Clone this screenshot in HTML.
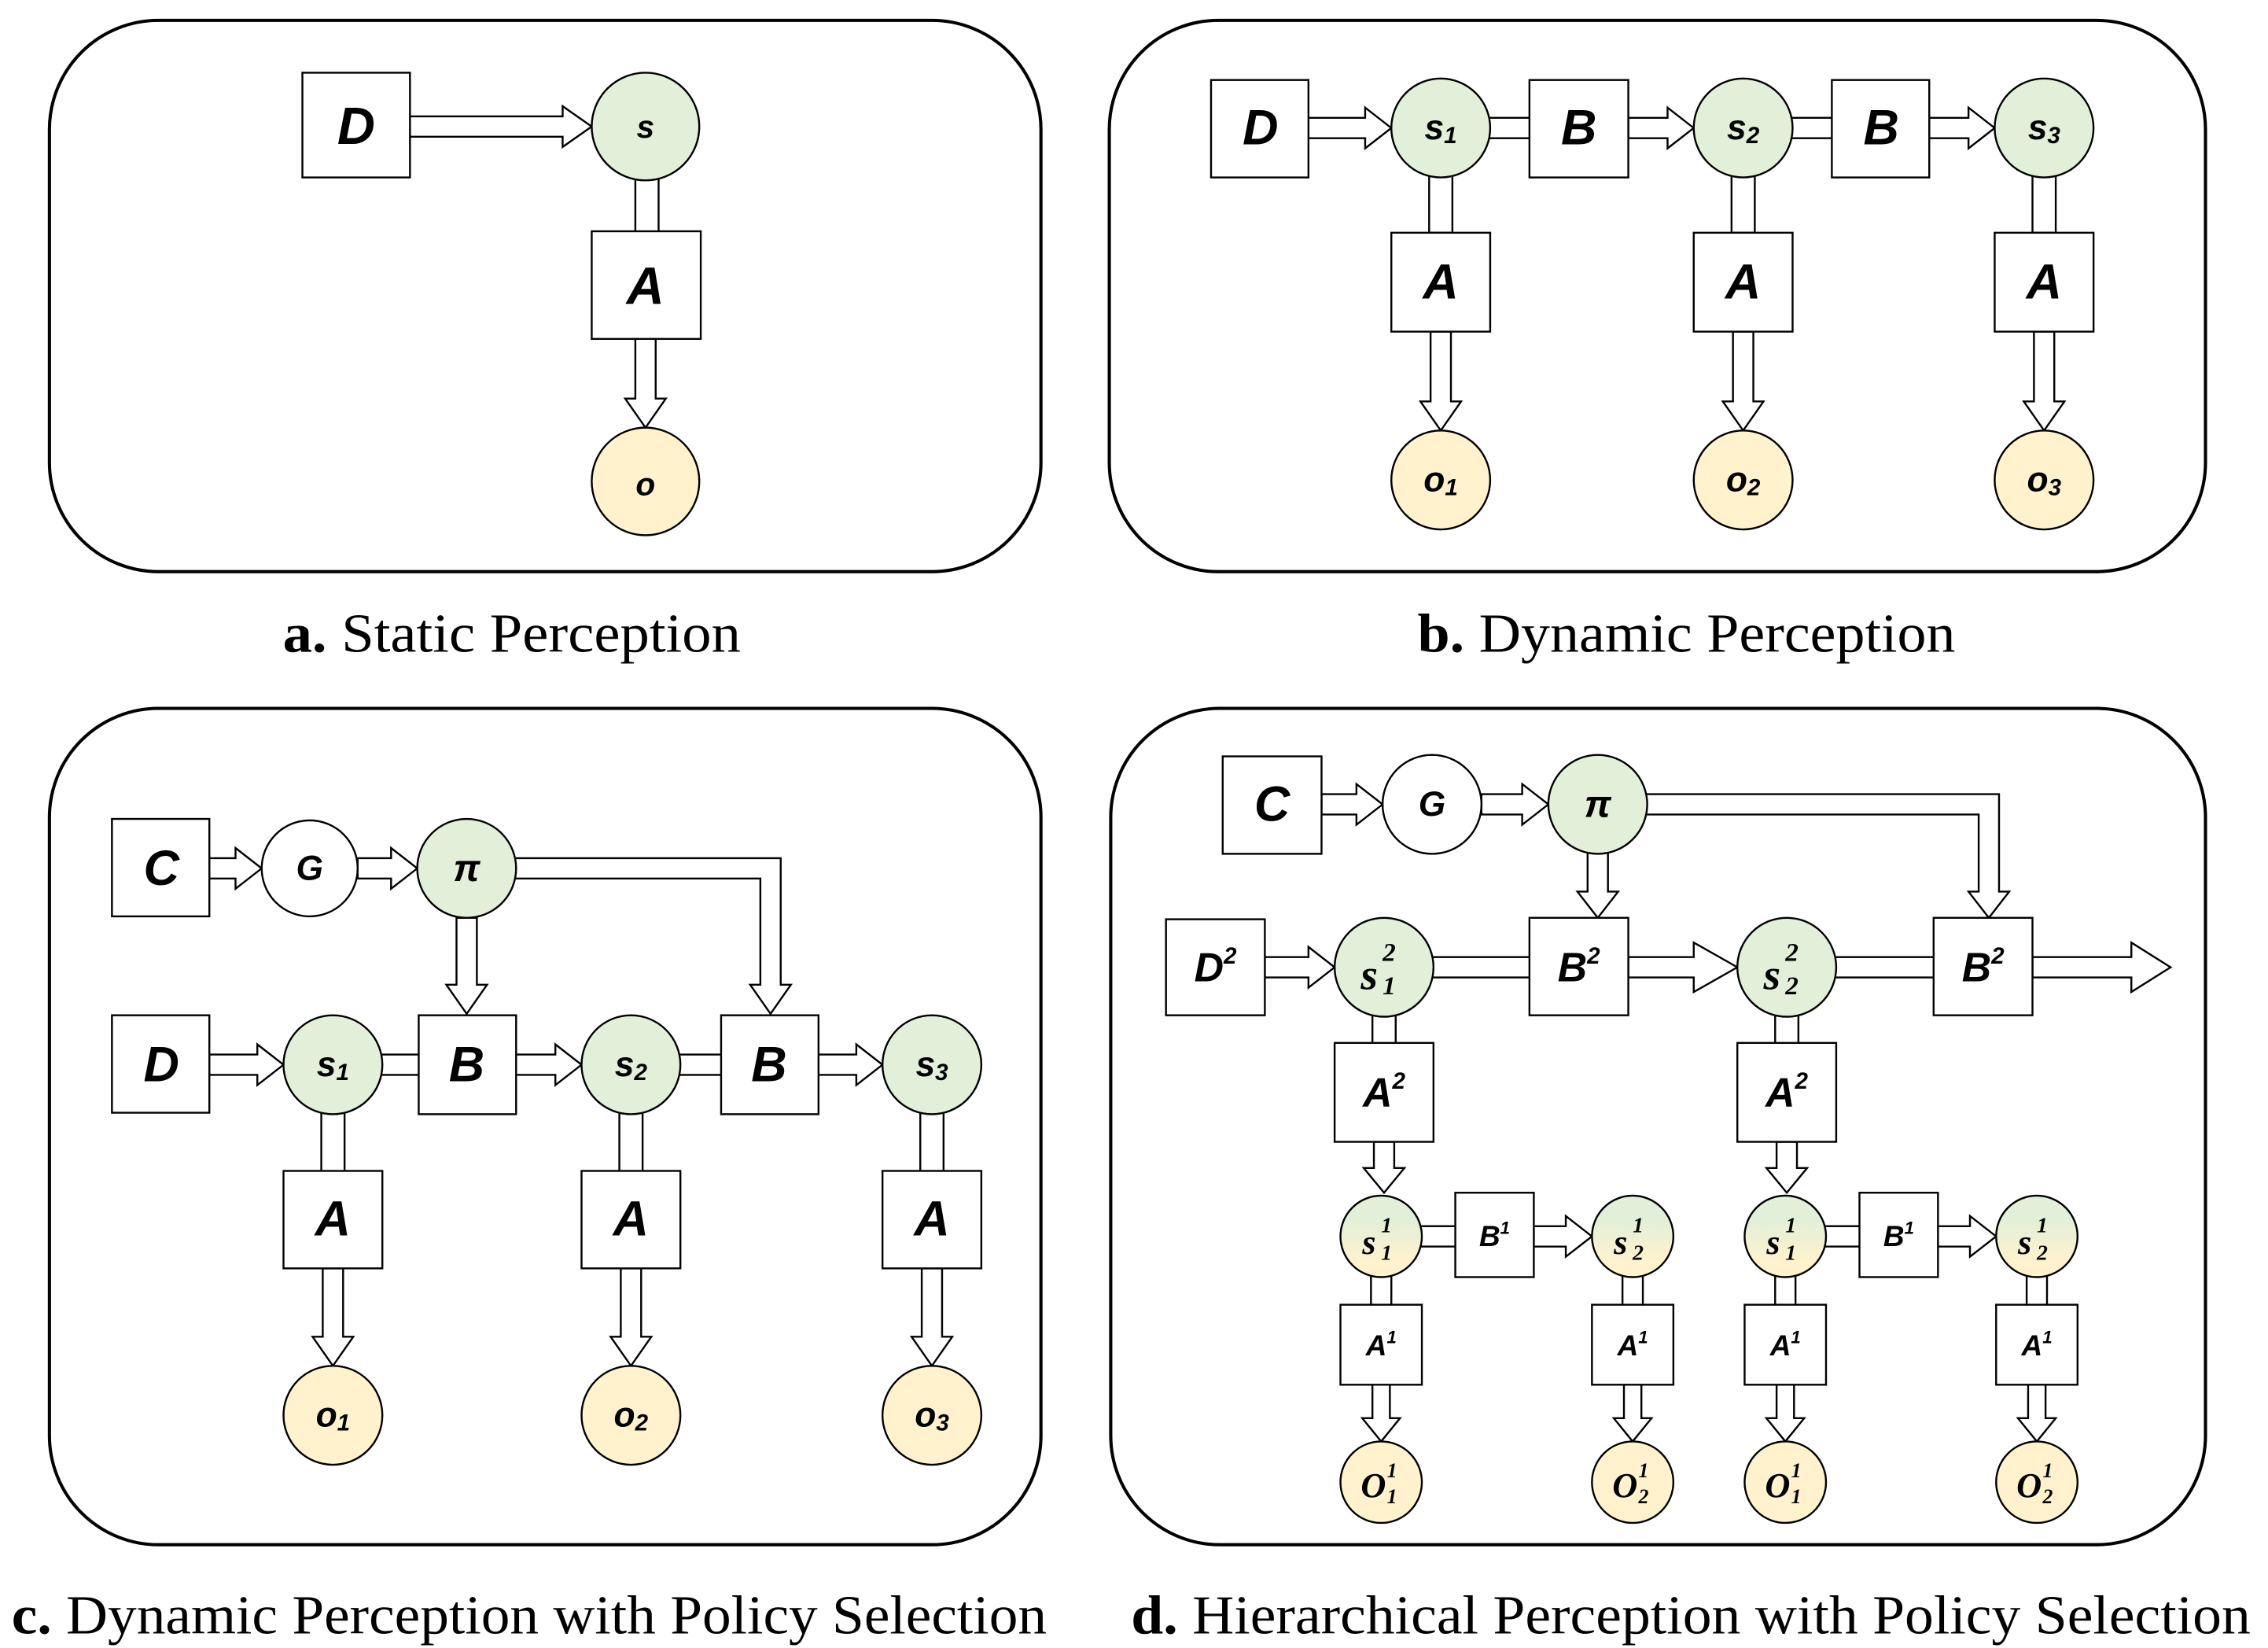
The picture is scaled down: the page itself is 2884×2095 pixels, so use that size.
<!DOCTYPE html>
<html><head><meta charset="utf-8"><style>
html,body{margin:0;padding:0;background:#fff;}
svg{display:block;}
.p{fill:#fff;stroke:#000;stroke-width:2.2;}
.b{fill:#fff;stroke:#000;stroke-width:1.3;}
.a{fill:#fff;stroke:#000;stroke-width:1.3;}
.g{fill:#e2efd9;stroke:#000;stroke-width:1.3;}
.y{fill:#fff2cc;stroke:#000;stroke-width:1.3;}
.m{fill:url(#gy);stroke:#000;stroke-width:1.3;}
.L{font-family:"Liberation Sans",sans-serif;font-weight:bold;font-style:italic;text-anchor:middle;dominant-baseline:central;}
.S{font-family:"Liberation Serif",serif;font-weight:bold;font-style:italic;dominant-baseline:central;}
.cap{font-family:"Liberation Serif",serif;font-size:38px;text-anchor:middle;}
</style></head><body>
<svg width="2884" height="2095" viewBox="0 0 1560 1133" preserveAspectRatio="none" xmlns="http://www.w3.org/2000/svg">
<defs><linearGradient id="gy" x1="0" y1="0" x2="0" y2="1"><stop offset="0.3" stop-color="#e2efd9"/><stop offset="0.8" stop-color="#fff2cc"/></linearGradient></defs>

<!-- Panel a -->
<rect class="p" x="34" y="14" width="682" height="379" rx="75"/>
<polygon class="a" points="282,80 387,80 387,73 407,87 387,101 387,94 282,94"/>
<rect class="a" x="437" y="118" width="16" height="42"/>
<polygon class="a" points="437,233 437,274 430,274 444,294 458,274 451,274 451,233"/>
<rect class="b" x="208" y="50" width="74" height="72"/>
<circle class="g" cx="444" cy="87" r="37"/>
<rect class="b" x="407" y="159" width="75" height="74"/>
<circle class="y" cx="444" cy="331" r="37"/>
<text class="L" x="245" y="87" font-size="36">D</text>
<text class="L" x="444" y="87" font-size="22">s</text>
<text class="L" x="444" y="197" font-size="36">A</text>
<text class="L" x="444" y="333" font-size="22">o</text>
<text class="cap" x="352" y="448" textLength="315" lengthAdjust="spacingAndGlyphs"><tspan font-weight="bold">a.</tspan>  Static Perception</text>

<!-- Panel b -->
<rect class="p" x="763" y="14" width="754" height="379" rx="75"/>
<polygon class="a" points="900,81 939,81 939,74 957,88 939,102 939,95 900,95"/>
<rect class="a" x="1020" y="81" width="34" height="14"/>
<polygon class="a" points="1120,81 1147,81 1147,74 1165,88 1147,102 1147,95 1120,95"/>
<rect class="a" x="1228" y="81" width="34" height="14"/>
<polygon class="a" points="1327,81 1354,81 1354,74 1372,88 1354,102 1354,95 1327,95"/>
<rect class="a" x="983" y="118" width="16" height="42"/>
<rect class="a" x="1191" y="118" width="16" height="42"/>
<rect class="a" x="1398" y="118" width="16" height="42"/>
<polygon class="a" points="984,228 984,276 977,276 991,296 1005,276 998,276 998,228"/>
<polygon class="a" points="1192,228 1192,276 1185,276 1199,296 1213,276 1206,276 1206,228"/>
<polygon class="a" points="1399,228 1399,276 1392,276 1406,296 1420,276 1413,276 1413,228"/>
<rect class="b" x="833" y="55" width="67" height="67"/>
<rect class="b" x="1052" y="55" width="68" height="67"/>
<rect class="b" x="1260" y="55" width="67" height="67"/>
<circle class="g" cx="991" cy="88" r="34"/>
<circle class="g" cx="1199" cy="88" r="34"/>
<circle class="g" cx="1406" cy="88" r="34"/>
<rect class="b" x="957" y="160" width="68" height="68"/>
<rect class="b" x="1165" y="160" width="68" height="68"/>
<rect class="b" x="1372" y="160" width="68" height="68"/>
<circle class="y" cx="991" cy="330" r="34"/>
<circle class="y" cx="1199" cy="330" r="34"/>
<circle class="y" cx="1406" cy="330" r="34"/>
<text class="L" x="867" y="88" font-size="34">D</text>
<text class="L" x="1086" y="88" font-size="34">B</text>
<text class="L" x="1294" y="88" font-size="34">B</text>
<text class="L" x="991" y="88" font-size="24">s<tspan font-size="16" dy="5">1</tspan></text>
<text class="L" x="1199" y="88" font-size="24">s<tspan font-size="16" dy="5">2</tspan></text>
<text class="L" x="1406" y="88" font-size="24">s<tspan font-size="16" dy="5">3</tspan></text>
<text class="L" x="991" y="194" font-size="34">A</text>
<text class="L" x="1199" y="194" font-size="34">A</text>
<text class="L" x="1406" y="194" font-size="34">A</text>
<text class="L" x="991" y="330" font-size="24">o<tspan font-size="16" dy="5">1</tspan></text>
<text class="L" x="1199" y="330" font-size="24">o<tspan font-size="16" dy="5">2</tspan></text>
<text class="L" x="1406" y="330" font-size="24">o<tspan font-size="16" dy="5">3</tspan></text>
<text class="cap" x="1160" y="448" textLength="370" lengthAdjust="spacingAndGlyphs"><tspan font-weight="bold">b.</tspan>  Dynamic Perception</text>

<!-- Panel c -->
<rect class="p" x="34" y="487" width="682" height="575" rx="75"/>
<polygon class="a" points="144,590 162,590 162,583 180,597 162,611 162,604 144,604"/>
<polygon class="a" points="246,590 269,590 269,583 287,597 269,611 269,604 246,604"/>
<polygon class="a" points="314,631 314,677 307,677 321,697 335,677 328,677 328,631"/>
<polygon class="a" points="350,590 537,590 537,677 544,677 530,697 516,677 523,677 523,604 350,604"/>
<polygon class="a" points="144,725 177,725 177,718 195,732 177,746 177,739 144,739"/>
<rect class="a" x="260" y="725" width="30" height="14"/>
<polygon class="a" points="355,725 382,725 382,718 400,732 382,746 382,739 355,739"/>
<rect class="a" x="465" y="725" width="32" height="14"/>
<polygon class="a" points="563,725 589,725 589,718 607,732 589,746 589,739 563,739"/>
<rect class="a" x="221" y="764" width="16" height="42"/>
<rect class="a" x="426" y="764" width="16" height="42"/>
<rect class="a" x="633" y="764" width="16" height="42"/>
<polygon class="a" points="222,872 222,919 215,919 229,939 243,919 236,919 236,872"/>
<polygon class="a" points="427,872 427,919 420,919 434,939 448,919 441,919 441,872"/>
<polygon class="a" points="634,872 634,919 627,919 641,939 655,919 648,919 648,872"/>
<rect class="b" x="77" y="563" width="67" height="67"/>
<circle cx="213" cy="597" r="33" fill="#fff" stroke="#000" stroke-width="1.3"/>
<circle class="g" cx="321" cy="597" r="34"/>
<rect class="b" x="77" y="698" width="67" height="67"/>
<circle class="g" cx="229" cy="732" r="34"/>
<rect class="b" x="288" y="698" width="67" height="68"/>
<circle class="g" cx="434" cy="732" r="34"/>
<rect class="b" x="496" y="698" width="67" height="68"/>
<circle class="g" cx="641" cy="732" r="34"/>
<rect class="b" x="195" y="805" width="68" height="67"/>
<rect class="b" x="400" y="805" width="68" height="67"/>
<rect class="b" x="607" y="805" width="68" height="67"/>
<circle class="y" cx="229" cy="973" r="34"/>
<circle class="y" cx="434" cy="973" r="34"/>
<circle class="y" cx="641" cy="973" r="34"/>
<text class="L" x="111" y="597" font-size="34">C</text>
<text class="L" x="213" y="597" font-size="24">G</text>
<text class="L" x="321" y="597" font-size="26">π</text>
<text class="L" x="111" y="732" font-size="34">D</text>
<text class="L" x="321" y="732" font-size="34">B</text>
<text class="L" x="529" y="732" font-size="34">B</text>
<text class="L" x="229" y="732" font-size="24">s<tspan font-size="16" dy="5">1</tspan></text>
<text class="L" x="434" y="732" font-size="24">s<tspan font-size="16" dy="5">2</tspan></text>
<text class="L" x="641" y="732" font-size="24">s<tspan font-size="16" dy="5">3</tspan></text>
<text class="L" x="229" y="838" font-size="34">A</text>
<text class="L" x="434" y="838" font-size="34">A</text>
<text class="L" x="641" y="838" font-size="34">A</text>
<text class="L" x="229" y="973" font-size="24">o<tspan font-size="16" dy="5">1</tspan></text>
<text class="L" x="434" y="973" font-size="24">o<tspan font-size="16" dy="5">2</tspan></text>
<text class="L" x="641" y="973" font-size="24">o<tspan font-size="16" dy="5">3</tspan></text>
<text class="cap" x="364" y="1123" textLength="712" lengthAdjust="spacingAndGlyphs"><tspan font-weight="bold">c.</tspan>  Dynamic Perception with Policy Selection</text>

<!-- Panel d -->
<rect class="p" x="764" y="487" width="753" height="575" rx="75"/>
<polygon class="a" points="909,546 933,546 933,539 951,553 933,567 933,560 909,560"/>
<polygon class="a" points="1019,546 1047,546 1047,539 1065,553 1047,567 1047,560 1019,560"/>
<polygon class="a" points="1092,585 1092,613 1085,613 1099,631 1113,613 1106,613 1106,585"/>
<polygon class="a" points="1130,546 1375,546 1375,613 1382,613 1368,631 1354,613 1361,613 1361,560 1130,560"/>
<polygon class="a" points="870,658 900,658 900,651 918,665 900,679 900,672 870,672"/>
<rect class="a" x="984" y="658" width="70" height="14"/>
<polygon class="a" points="1120,658 1165,658 1165,648 1195,665 1165,682 1165,672 1120,672"/>
<rect class="a" x="1261" y="658" width="71" height="14"/>
<polygon class="a" points="1398,658 1466,658 1466,648 1493,665 1466,682 1466,672 1398,672"/>
<rect class="a" x="944" y="697" width="16" height="22"/>
<rect class="a" x="1221" y="697" width="16" height="22"/>
<polygon class="a" points="945,785 945,803 938,803 952,820 966,803 959,803 959,785"/>
<polygon class="a" points="1222,785 1222,803 1215,803 1229,820 1243,803 1236,803 1236,785"/>
<rect class="a" x="976" y="843" width="27" height="14"/>
<polygon class="a" points="1055,843 1077,843 1077,836 1095,850 1077,864 1077,857 1055,857"/>
<rect class="a" x="1254" y="843" width="27" height="14"/>
<polygon class="a" points="1333,843 1355,843 1355,836 1373,850 1355,864 1355,857 1333,857"/>
<rect class="a" x="943" y="876" width="14" height="22"/>
<rect class="a" x="1116" y="876" width="14" height="22"/>
<rect class="a" x="1221" y="876" width="14" height="22"/>
<rect class="a" x="1394" y="876" width="14" height="22"/>
<polygon class="a" points="944,952 944,975 937,975 950,991 963,975 956,975 956,952"/>
<polygon class="a" points="1117,952 1117,975 1110,975 1123,991 1136,975 1129,975 1129,952"/>
<polygon class="a" points="1222,952 1222,975 1215,975 1228,991 1241,975 1234,975 1234,952"/>
<polygon class="a" points="1395,952 1395,975 1388,975 1401,991 1414,975 1407,975 1407,952"/>
<rect class="b" x="841" y="520" width="68" height="67"/>
<circle cx="985" cy="553" r="34" fill="#fff" stroke="#000" stroke-width="1.3"/>
<circle class="g" cx="1099" cy="553" r="34"/>
<rect class="b" x="802" y="632" width="68" height="66"/>
<circle class="g" cx="952" cy="665" r="34"/>
<rect class="b" x="1052" y="631" width="68" height="67"/>
<circle class="g" cx="1229" cy="665" r="34"/>
<rect class="b" x="1330" y="631" width="68" height="67"/>
<rect class="b" x="918" y="717" width="68" height="68"/>
<rect class="b" x="1195" y="717" width="68" height="68"/>
<circle class="m" cx="950" cy="850" r="28"/>
<rect class="b" x="1001" y="820" width="54" height="58"/>
<circle class="m" cx="1123" cy="850" r="28"/>
<circle class="m" cx="1228" cy="850" r="28"/>
<rect class="b" x="1279" y="820" width="54" height="58"/>
<circle class="m" cx="1401" cy="850" r="28"/>
<rect class="b" x="922" y="897" width="56" height="55"/>
<rect class="b" x="1095" y="897" width="56" height="55"/>
<rect class="b" x="1200" y="897" width="56" height="55"/>
<rect class="b" x="1373" y="897" width="56" height="55"/>
<circle class="y" cx="950" cy="1019" r="28"/>
<circle class="y" cx="1123" cy="1019" r="28"/>
<circle class="y" cx="1228" cy="1019" r="28"/>
<circle class="y" cx="1401" cy="1019" r="28"/>
<text class="L" x="875" y="553" font-size="34">C</text>
<text class="L" x="985" y="553" font-size="24">G</text>
<text class="L" x="1099" y="553" font-size="26">π</text>
<text class="L" x="836" y="665" font-size="28">D<tspan font-size="16" dy="-8">2</tspan></text>
<text class="L" x="1086" y="665" font-size="28">B<tspan font-size="16" dy="-8">2</tspan></text>
<text class="L" x="1364" y="665" font-size="28">B<tspan font-size="16" dy="-8">2</tspan></text>
<text class="L" x="952" y="751" font-size="28">A<tspan font-size="16" dy="-8">2</tspan></text>
<text class="L" x="1229" y="751" font-size="28">A<tspan font-size="16" dy="-8">2</tspan></text>
<text class="L" x="1028" y="850" font-size="20">B<tspan font-size="12" dy="-6">1</tspan></text>
<text class="L" x="1306" y="850" font-size="20">B<tspan font-size="12" dy="-6">1</tspan></text>
<text class="L" x="950" y="925" font-size="20">A<tspan font-size="12" dy="-6">1</tspan></text>
<text class="L" x="1123" y="925" font-size="20">A<tspan font-size="12" dy="-6">1</tspan></text>
<text class="L" x="1228" y="925" font-size="20">A<tspan font-size="12" dy="-6">1</tspan></text>
<text class="L" x="1401" y="925" font-size="20">A<tspan font-size="12" dy="-6">1</tspan></text>
<text class="S" x="936" y="670" font-size="30">s</text><text class="S" x="951" y="655" font-size="18" font-style="normal">2</text><text class="S" x="951" y="678" font-size="18" font-style="normal">1</text>
<text class="S" x="1213" y="670" font-size="30">s</text><text class="S" x="1228" y="655" font-size="18" font-style="normal">2</text><text class="S" x="1228" y="678" font-size="18" font-style="normal">2</text>
<text class="S" x="937" y="854" font-size="24">s</text><text class="S" x="950" y="842" font-size="15" font-style="normal">1</text><text class="S" x="950" y="861" font-size="15" font-style="normal">1</text>
<text class="S" x="1110" y="854" font-size="24">s</text><text class="S" x="1123" y="842" font-size="15" font-style="normal">1</text><text class="S" x="1123" y="861" font-size="15" font-style="normal">2</text>
<text class="S" x="1215" y="854" font-size="24">s</text><text class="S" x="1228" y="842" font-size="15" font-style="normal">1</text><text class="S" x="1228" y="861" font-size="15" font-style="normal">1</text>
<text class="S" x="1388" y="854" font-size="24">s</text><text class="S" x="1401" y="842" font-size="15" font-style="normal">1</text><text class="S" x="1401" y="861" font-size="15" font-style="normal">2</text>
<text class="S" x="936" y="1021" font-size="24">O</text><text class="S" x="954" y="1011" font-size="14" font-style="normal">1</text><text class="S" x="954" y="1029" font-size="14" font-style="normal">1</text>
<text class="S" x="1109" y="1021" font-size="24">O</text><text class="S" x="1127" y="1011" font-size="14" font-style="normal">1</text><text class="S" x="1127" y="1029" font-size="14" font-style="normal">2</text>
<text class="S" x="1214" y="1021" font-size="24">O</text><text class="S" x="1232" y="1011" font-size="14" font-style="normal">1</text><text class="S" x="1232" y="1029" font-size="14" font-style="normal">1</text>
<text class="S" x="1387" y="1021" font-size="24">O</text><text class="S" x="1405" y="1011" font-size="14" font-style="normal">1</text><text class="S" x="1405" y="1029" font-size="14" font-style="normal">2</text>
<text class="cap" x="1163" y="1123" textLength="770" lengthAdjust="spacingAndGlyphs"><tspan font-weight="bold">d.</tspan>  Hierarchical Perception with Policy Selection</text>
</svg>
</body></html>
